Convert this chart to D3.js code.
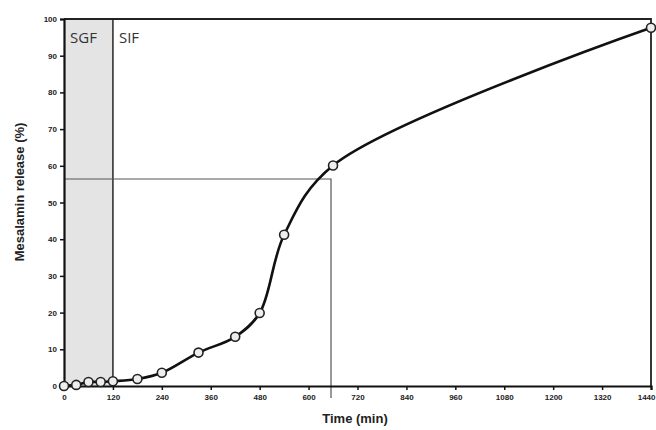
<!DOCTYPE html>
<html><head><meta charset="utf-8">
<script src="https://cdn.jsdelivr.net/npm/d3@7"></script>
<style>body{margin:0;background:#fff}</style>
</head><body>
<svg id="c" width="656" height="430"></svg>
<script>
const times = [0, 30, 60, 90, 120, 180, 240, 330, 420, 480, 540, 660, 1440];
const release = [0, 0.3, 1.1, 1.1, 1.3, 1.9, 3.6, 9.1, 13.4, 19.9, 41.2, 60.1, 97.6];
const xTicks = [0,120,240,360,480,600,720,840,960,1080,1200,1320,1440];
const yTicks = [0,10,20,30,40,50,60,70,80,90,100];
const phases = [{name:"SGF", from:0, to:120}, {name:"SIF", from:120, to:1440}];
const refLine = {t:655, v:56.4};

const W=656,H=430, m={l:64,r:5,t:19,b:44};
const svg=d3.select("#c");
const x=d3.scaleLinear().domain([0,1440]).range([m.l,W-m.r]);
const y=d3.scaleLinear().domain([0,100]).range([H-m.b,m.t]);

// SGF shading
svg.append("rect").attr("x",x(phases[0].from)).attr("y",y(100))
  .attr("width",x(phases[0].to)-x(phases[0].from)).attr("height",y(0)-y(100))
  .attr("fill","#e4e4e4");
svg.append("line").attr("x1",x(120)).attr("x2",x(120)).attr("y1",y(100)).attr("y2",y(0))
  .attr("stroke","#333").attr("stroke-width",1.6);

// phase labels
svg.selectAll("text.ph").data(phases).enter().append("text")
  .attr("x",d=>x(d.from)+6).attr("y",y(100)+24)
  .attr("font-family","Open Sans, Liberation Sans, sans-serif").attr("font-size",15)
  .attr("fill","#333").text(d=>d.name);

// reference lines
svg.append("path")
  .attr("d",`M${x(0)},${y(refLine.v)}H${x(refLine.t)}V${y(0)+12}`)
  .attr("fill","none").attr("stroke","#555").attr("stroke-width",1.2);

// frame top/right
svg.append("path").attr("d",`M${x(0)},${y(100)}H${x(1440)}V${y(0)}`)
  .attr("fill","none").attr("stroke","#222").attr("stroke-width",1.8);

// axes
const ax=svg.append("g").attr("transform",`translate(0,${y(0)})`)
  .call(d3.axisBottom(x).tickValues(xTicks).tickFormat(d3.format("d")).tickSize(4).tickPadding(4));
const ay=svg.append("g").attr("transform",`translate(${x(0)},0)`)
  .call(d3.axisLeft(y).tickValues(yTicks).tickFormat(d3.format("d")).tickSize(4).tickPadding(3));
[ax,ay].forEach(g=>{
  g.select(".domain").attr("stroke","#111").attr("stroke-width",2.2);
  g.selectAll(".tick line").attr("stroke","#111").attr("stroke-width",1.5);
  g.selectAll("text").attr("font-family","Liberation Sans, Arial, sans-serif")
   .attr("font-size",8).attr("font-weight","bold").attr("fill","#222");
});
ax.selectAll(".tick").filter(d=>d===1440).select("text").attr("text-anchor","end").attr("dx",4);

// line
const line=d3.line().x((d,i)=>x(times[i])).y(d=>y(d)).curve(d3.curveCatmullRom.alpha(0.5));
svg.append("path").datum(release).attr("d",line)
  .attr("fill","none").attr("stroke","#111").attr("stroke-width",2.6);
svg.selectAll("circle.pt").data(release).enter().append("circle")
  .attr("cx",(d,i)=>x(times[i])).attr("cy",d=>y(d)).attr("r",4.5)
  .attr("fill","#eeeeee").attr("stroke","#222").attr("stroke-width",1.6);

// axis titles
svg.append("text").attr("x",355).attr("y",423).attr("text-anchor","middle")
  .attr("font-family","Liberation Sans, Arial, sans-serif").attr("font-weight","bold")
  .attr("font-size",13).attr("fill","#222").text("Time (min)");
svg.append("text").attr("transform","translate(24,192) rotate(-90)").attr("text-anchor","middle")
  .attr("font-family","Liberation Sans, Arial, sans-serif").attr("font-weight","bold")
  .attr("font-size",13).attr("fill","#222").text("Mesalamin release (%)");
</script>
</body></html>
